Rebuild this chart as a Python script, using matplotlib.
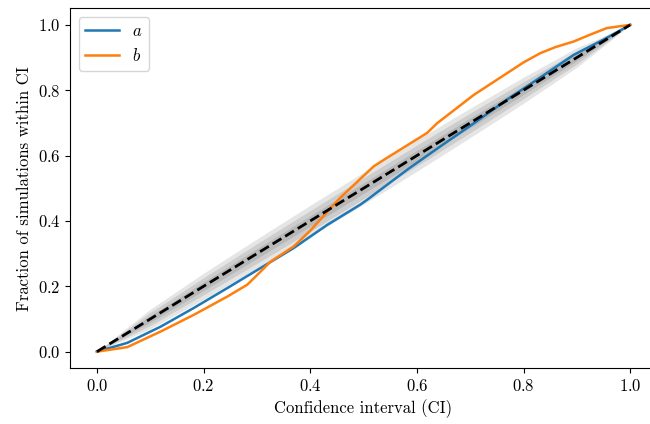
"""PP plot: fraction of simulations within CI vs confidence interval."""

import matplotlib

matplotlib.use("Agg")
import matplotlib.pyplot as plt  # noqa: E402

plt.rcParams.update({
    "font.family": "serif",
    "font.serif": ["cmr10", "DejaVu Serif"],
    "mathtext.fontset": "cm",
    "axes.formatter.use_mathtext": True,
    "font.size": 12,
})

# curves (x = confidence interval, y = fraction within CI)
ci_a = [0.0, 0.057, 0.12, 0.182, 0.245, 0.307, 0.369, 0.40, 0.432, 0.494, 0.507,
        0.582, 0.644, 0.707, 0.769, 0.825, 0.894, 0.95, 1.0]
frac_a = [0.0, 0.027, 0.077, 0.134, 0.195, 0.256, 0.317, 0.352, 0.388, 0.45, 0.465,
          0.557, 0.628, 0.699, 0.771, 0.832, 0.908, 0.955, 1.0]
ci_b = [0.0, 0.057, 0.12, 0.182, 0.245, 0.282, 0.307, 0.326, 0.369, 0.40, 0.432,
        0.457, 0.519, 0.538, 0.619, 0.638, 0.707, 0.769, 0.80, 0.831, 0.86, 0.894,
        0.925, 0.956, 1.0]
frac_b = [0.0, 0.014, 0.062, 0.113, 0.169, 0.205, 0.245, 0.276, 0.322, 0.370, 0.428,
          0.472, 0.567, 0.587, 0.669, 0.699, 0.786, 0.852, 0.885, 0.913, 0.932, 0.949,
          0.97, 0.99, 1.0]

# grey band half-widths (1, 2, 3 sigma)
band_x = [0.0, 0.1, 0.2, 0.3, 0.4, 0.5, 0.6, 0.7, 0.8, 0.9, 1.0]
band_half = [
    [0.0, 0.010, 0.013, 0.015, 0.016, 0.016, 0.016, 0.015, 0.013, 0.010, 0.0],
    [0.0, 0.020, 0.026, 0.030, 0.032, 0.032, 0.032, 0.030, 0.026, 0.020, 0.0],
    [0.0, 0.030, 0.040, 0.045, 0.048, 0.049, 0.048, 0.045, 0.040, 0.030, 0.0],
]

fig = plt.figure(figsize=(6.5, 4.24), dpi=100)
ax = fig.add_axes([0.108, 0.132, 0.9026, 0.848])

for half in band_half:
    lo = [x - h for x, h in zip(band_x, half)]
    hi = [x + h for x, h in zip(band_x, half)]
    ax.fill_between(band_x, lo, hi, color="k", alpha=0.1, lw=0)

ax.plot(ci_a, frac_a, color="tab:blue", lw=1.8, label="$a$")
ax.plot(ci_b, frac_b, color="tab:orange", lw=1.8, label="$b$")
ax.plot([0, 1], [0, 1], "k--", lw=2)

ax.set_xlim(-0.05, 1.05)
ax.set_ylim(-0.05, 1.05)
ax.set_xlabel("Confidence interval (CI)")
ax.set_ylabel("Fraction of simulations within CI")
ax.legend(loc="upper left", fontsize=12, handlelength=2.0)

fig.savefig("out.png", dpi=100)
